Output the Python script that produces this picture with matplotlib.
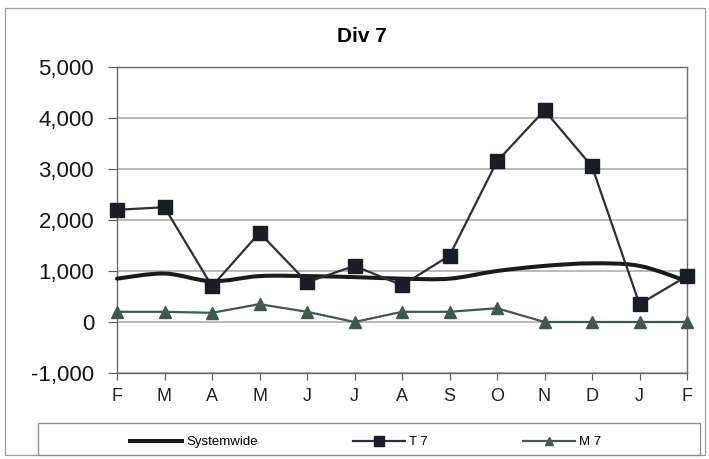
import matplotlib
matplotlib.use("Agg")
import matplotlib.pyplot as plt
from matplotlib.patches import Rectangle, PathPatch
from matplotlib.path import Path
from matplotlib.lines import Line2D
import numpy as np

plt.rcParams['font.family'] = ['Liberation Sans', 'DejaVu Sans']

months = ["F", "M", "A", "M", "J", "J", "A", "S", "O", "N", "D", "J", "F"]
systemwide = [850, 950, 800, 900, 900, 880, 850, 850, 1000, 1100, 1150, 1100, 800]
t7 = [2200, 2250, 700, 1750, 780, 1100, 720, 1300, 3150, 4150, 3050, 350, 900]
m7 = [200, 200, 180, 350, 200, 0, 200, 200, 270, 0, 0, 0, 0]
y_ticks = [-1000, 0, 1000, 2000, 3000, 4000, 5000]

W, H = 709, 459
fig = plt.figure(figsize=(W / 100, H / 100), dpi=100)
fig.patch.set_facecolor("white")

# outer chart border
fig.add_artist(Rectangle((5 / W, 1 - 455 / H), 700 / W, 447 / H, transform=fig.transFigure,
                         fill=False, edgecolor="#9a9a9a", lw=0.9))

ax = fig.add_axes([117 / W, 1 - 373 / H, (687 - 117) / W, (373 - 67) / H])
x = np.arange(len(months))

ax.set_xlim(0, len(months) - 1)
ax.set_ylim(-1000, 5000)
ax.set_yticks(y_ticks)
ax.set_yticklabels([f"{v:,}" for v in y_ticks], fontsize=16, color="#151515")
ax.set_xticks(x)
ax.set_xticklabels(months, fontsize=13, color="#222222")
ax.tick_params(axis="y", direction="out", length=6.5, width=0.8, color="#555555", pad=10)
ax.tick_params(axis="x", direction="out", length=5, width=0.8, color="#555555", pad=6)
ax.grid(axis="y", color="#a8a8a8", lw=1.1)
ax.set_axisbelow(True)
for s in ax.spines.values():
    s.set_color("#6a6a6a")
    s.set_linewidth(1.0)

# Systemwide as a smoothed curve (Catmull-Rom segments as cubic Bezier)
xs = np.asarray(x, float)
ys = np.asarray(systemwide, float)
verts = [(xs[0], ys[0])]
codes = [Path.MOVETO]
n = len(xs)
for i in range(n - 1):
    p0 = (xs[max(i - 1, 0)], ys[max(i - 1, 0)])
    p1 = (xs[i], ys[i])
    p2 = (xs[i + 1], ys[i + 1])
    p3 = (xs[min(i + 2, n - 1)], ys[min(i + 2, n - 1)])
    c1 = (p1[0] + (p2[0] - p0[0]) / 6, p1[1] + (p2[1] - p0[1]) / 6)
    c2 = (p2[0] - (p3[0] - p1[0]) / 6, p2[1] - (p3[1] - p1[1]) / 6)
    verts += [c1, c2, p2]
    codes += [Path.CURVE4] * 3
ax.add_patch(PathPatch(Path(verts, codes), fill=False, edgecolor="#1a1a1a", lw=2.9,
                       capstyle="round", joinstyle="round", zorder=3, clip_on=False))

ax.plot(x, t7, color="#2e2e36", lw=1.6, marker="s", ms=10.5, mfc="#1c1c26", mec="#1c1c26",
        zorder=4, clip_on=False)
ax.plot(x, m7, color="#3f5a52", lw=1.6, marker="^", ms=9, mfc="#41584f", mec="#41584f",
        zorder=4, clip_on=False)

fig.text(362 / W, 1 - 37 / H, "Div 7", ha="center", va="center", fontsize=15, fontweight="bold")

# legend box
fig.add_artist(Rectangle((38 / W, 1 - 455 / H), 662 / W, 32 / H, transform=fig.transFigure,
                         fill=False, edgecolor="#8a8a8a", lw=0.9))
handles = [
    Line2D([], [], color="#1a1a1a", lw=2.9),
    Line2D([], [], color="#2e2e36", lw=1.6, marker="s", ms=7, mfc="#1c1c26", mec="#1c1c26"),
    Line2D([], [], color="#3f5a52", lw=1.6, marker="^", ms=6, mfc="#41584f", mec="#41584f"),
]
fig.legend(handles, ["Systemwide", "T 7", "M 7"], loc="center left",
           bbox_to_anchor=(130 / W, 1 - 442 / H), ncol=3, frameon=False,
           borderpad=0, borderaxespad=0,
           fontsize=9.5, handlelength=3.95, handletextpad=0.3, columnspacing=7.2)

fig.savefig("out.png", dpi=100, facecolor="white")
